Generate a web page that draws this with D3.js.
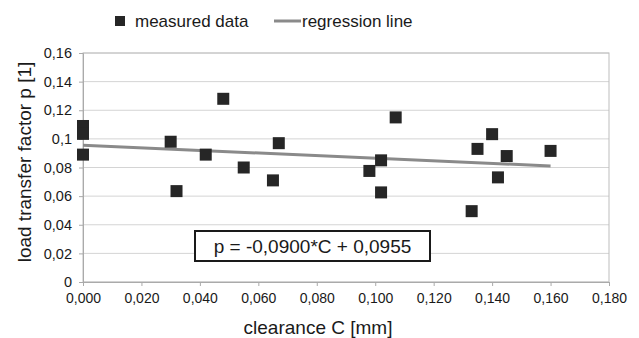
<!DOCTYPE html>
<html>
<head>
<meta charset="utf-8">
<script src="https://cdn.jsdelivr.net/npm/d3@7"></script>
<style>
  body { margin: 0; background: #fff; }
  text { font-family: "Liberation Sans", Arial, sans-serif; fill: #1a1a1a; }
</style>
</head>
<body>
<svg id="chart" width="639" height="338"></svg>
<script>
// measured points
const clearance = [0, 0, 0, 0.030, 0.032, 0.042, 0.048, 0.055, 0.065, 0.067,
                   0.098, 0.102, 0.102, 0.107, 0.133, 0.135, 0.140, 0.142, 0.145, 0.160];
const loadFactor = [0.109, 0.1035, 0.089, 0.098, 0.0635, 0.089, 0.128, 0.080, 0.071, 0.097,
                    0.0776, 0.085, 0.0626, 0.115, 0.0495, 0.093, 0.1033, 0.0731, 0.088, 0.0916];
// regression p = -0.0900*C + 0.0955
const slope = -0.0900;
const intercept = 0.0955;
const fitRange = [0, 0.160];
const xTicks = d3.range(0, 0.1801, 0.02);
const yTicks = [0, 0.02, 0.04, 0.06, 0.08, 0.1, 0.12, 0.14, 0.16];
const yLabels = ["0", "0,02", "0,04", "0,06", "0,08", "0,1", "0,12", "0,14", "0,16"];
const fmt = (d, n) => d.toFixed(n).replace(".", ",");

const svg = d3.select("#chart");
const margin = { left: 83, right: 30, top: 53, bottom: 56 };
const width = 609 - margin.left;
const height = 282 - margin.top;

const x = d3.scaleLinear().domain([0, 0.18]).range([0, width]);
const y = d3.scaleLinear().domain([0, 0.16]).range([height, 0]);

const g = svg.append("g")
  .attr("transform", "translate(" + margin.left + "," + margin.top + ")");

// horizontal grid lines
g.selectAll(".grid")
  .data(yTicks)
  .enter()
  .append("line")
  .attr("x1", 0)
  .attr("x2", width)
  .attr("y1", d => y(d))
  .attr("y2", d => y(d))
  .attr("stroke", "#d4d4d4")
  .attr("stroke-width", 1);

// plot frame
g.append("rect")
  .attr("width", width)
  .attr("height", height)
  .attr("fill", "none")
  .attr("stroke", "#bdbdbd");

// x axis
const xAxis = g.append("g")
  .attr("transform", "translate(0," + height + ")")
  .call(d3.axisBottom(x).tickValues(xTicks).tickFormat(d => fmt(d, 3)).tickSize(4).tickPadding(7));
xAxis.select(".domain").attr("stroke", "#aaa");
xAxis.selectAll("line").attr("stroke", "#aaa");
xAxis.selectAll("text").style("font-size", "14px").attr("fill", "#1a1a1a");

// y axis
const yAxis = g.append("g")
  .call(d3.axisLeft(y).tickValues(yTicks).tickFormat((d, i) => yLabels[i]).tickSize(4).tickPadding(7));
yAxis.select(".domain").attr("stroke", "#aaa");
yAxis.selectAll("line").attr("stroke", "#aaa");
yAxis.selectAll("text").style("font-size", "14.5px").attr("fill", "#1a1a1a");

// axis titles
svg.append("text")
  .attr("x", 318)
  .attr("y", 334)
  .attr("text-anchor", "middle")
  .style("font-size", "19px")
  .text("clearance C [mm]");

svg.append("text")
  .attr("transform", "translate(31,162) rotate(-90)")
  .attr("text-anchor", "middle")
  .style("font-size", "19px")
  .text("load transfer factor p [1]");

// regression line
g.append("line")
  .attr("x1", x(fitRange[0]))
  .attr("y1", y(intercept + slope * fitRange[0]))
  .attr("x2", x(fitRange[1]))
  .attr("y2", y(intercept + slope * fitRange[1]))
  .attr("stroke", "#8a8a8a")
  .attr("stroke-width", 3);

// measured points
const ms = 12;
g.selectAll(".pt")
  .data(clearance.map((c, i) => [c, loadFactor[i]]))
  .enter()
  .append("rect")
  .attr("x", d => x(d[0]) - ms / 2)
  .attr("y", d => y(d[1]) - ms / 2)
  .attr("width", ms)
  .attr("height", ms)
  .attr("fill", "#262626");

// equation box
const eq = g.append("g").attr("transform", "translate(" + (195 - margin.left) + "," + (231 - margin.top) + ")");
eq.append("rect")
  .attr("width", 235)
  .attr("height", 30)
  .attr("fill", "#fff")
  .attr("stroke", "#1a1a1a")
  .attr("stroke-width", 2);
eq.append("text")
  .attr("x", 117.5)
  .attr("y", 22)
  .attr("text-anchor", "middle")
  .style("font-size", "19px")
  .text("p = -0,0900*C + 0,0955");

// legend
const lg = svg.append("g");
lg.append("rect").attr("x", 115).attr("y", 16).attr("width", 10).attr("height", 10).attr("fill", "#262626");
lg.append("text").attr("x", 135).attr("y", 27).style("font-size", "17px").text("measured data");
lg.append("line").attr("x1", 274).attr("x2", 301).attr("y1", 21).attr("y2", 21)
  .attr("stroke", "#8a8a8a").attr("stroke-width", 3);
lg.append("text").attr("x", 302).attr("y", 27).style("font-size", "17px").text("regression line");
</script>
</body>
</html>
